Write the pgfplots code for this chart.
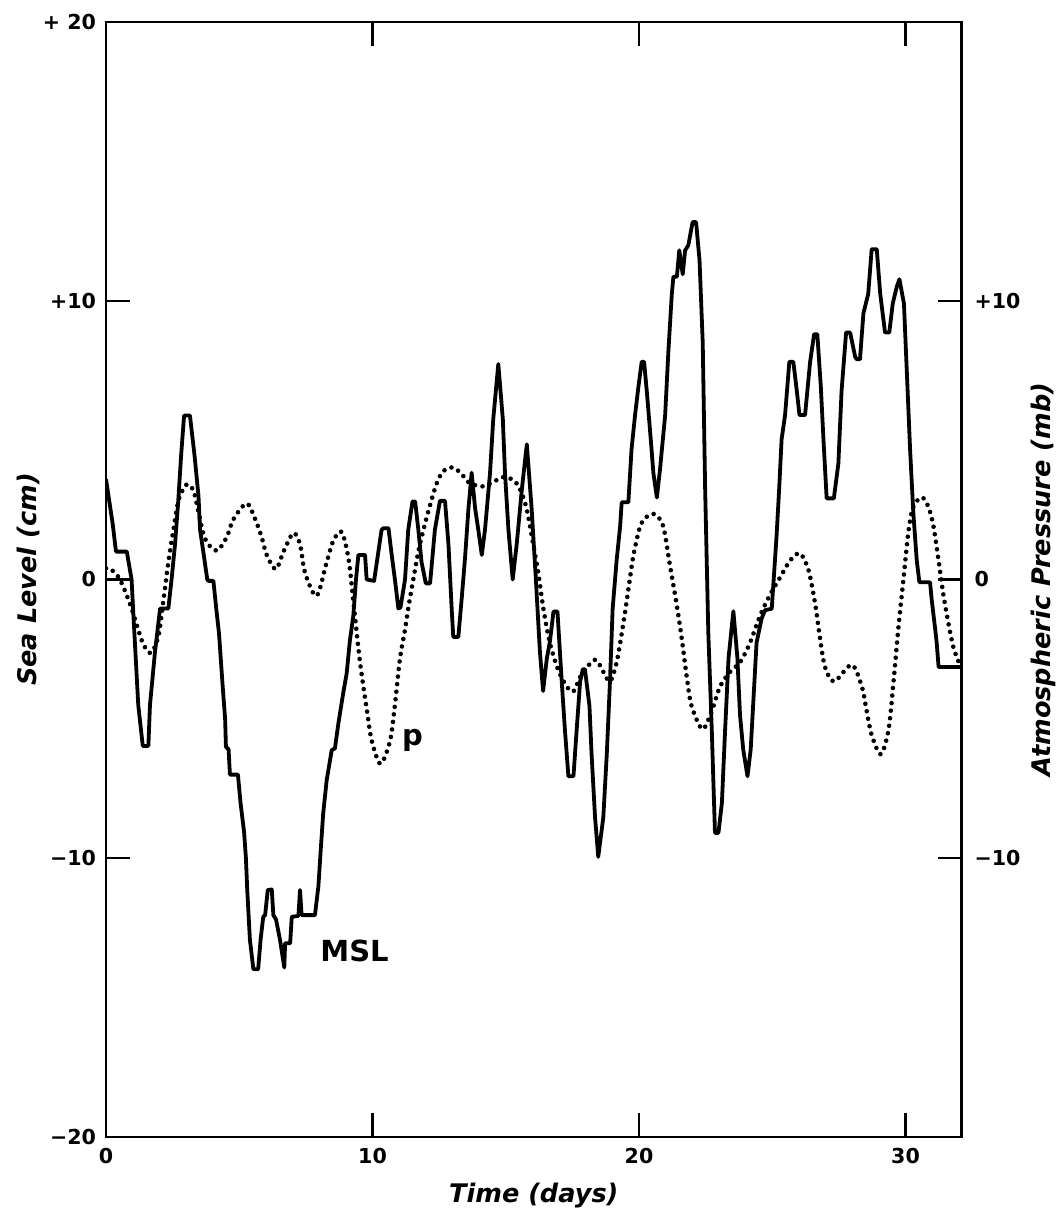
\documentclass[border=0pt]{standalone}
\usepackage{fontspec}
\setmainfont{DejaVu Sans}
\usepackage{pgfplots}
\pgfplotsset{compat=1.18}
\begin{document}
\begin{tikzpicture}
\begin{axis}[
  scale only axis, width=427.75pt, height=557.5pt,
  xmin=0, xmax=32.1, ymin=-20, ymax=20,
  axis line style={line width=1.2pt},
  every tick/.style={line width=1.1pt, black},
  major tick length=12pt,
  tick align=inside,
  xtick={0,10,20,30}, xticklabels={0,10,20,30},
  ytick={-20,-10,0,10,20}, yticklabels={−20,−10,0,+10,+ 20},
  ytick pos=left,
  xticklabel style={font=\fontsize{10.3}{12}\selectfont\bfseries, yshift=-2pt},
  yticklabel style={font=\fontsize{10.3}{12}\selectfont\bfseries, xshift=-1.5pt},
  xlabel={Time (days)}, ylabel={Sea Level (cm)},
  xlabel style={font=\fontsize{12.8}{15}\selectfont\bfseries\itshape, at={(axis description cs:0.5,-0.0529)}, anchor=center},
  ylabel style={font=\fontsize{12.8}{15}\selectfont\bfseries\itshape, at={(axis description cs:-0.0912,0.5)}, anchor=center},
  clip=true,
]
\addplot[black, line width=1.9pt, line join=round] coordinates {
(0,3.6) (0.25,2.0) (0.375,1.0) (0.78,1.0) (0.96,0.0) (1.03,-1.3) (1.21,-4.5) (1.38,-5.97) (1.59,-5.97)
(1.65,-4.5) (1.84,-2.58) (2.03,-1.04) (2.34,-1.04) (2.46,0) (2.59,1.26) (2.71,2.8) (2.82,4.47) (2.93,5.88)
(3.15,5.88) (3.32,4.47) (3.47,3.0) (3.53,1.78) (3.65,1.0) (3.8,0) (3.84,-0.05) (4.03,-0.05) (4.15,-1.16)
(4.24,-1.93) (4.38,-3.86) (4.47,-5.0) (4.5,-6.0) (4.6,-6.1) (4.65,-7.0) (4.95,-7.0) (5.05,-8.03) (5.18,-9.05)
(5.25,-10.0) (5.3,-11.14) (5.4,-12.93) (5.53,-13.98) (5.71,-13.98) (5.8,-12.93) (5.9,-12.1) (5.97,-12.04)
(6.07,-11.14) (6.22,-11.12) (6.28,-12.04) (6.38,-12.2) (6.53,-12.93) (6.69,-13.92) (6.72,-13.05) (6.91,-13.05)
(6.97,-12.1) (7.22,-12.07) (7.28,-11.14) (7.34,-12.04) (7.84,-12.04) (7.97,-11.0) (8.05,-9.8) (8.15,-8.39)
(8.28,-7.2) (8.47,-6.12) (8.59,-6.06) (8.72,-5.16) (8.9,-4.08) (9.03,-3.37) (9.15,-2.2) (9.28,-1.3) (9.38,0)
(9.47,0.88) (9.72,0.88) (9.78,0) (10.06,-0.05) (10.22,1.0) (10.34,1.78) (10.41,1.84) (10.6,1.84) (10.72,0.88)
(10.84,0) (10.97,-1.04) (11.05,-1.0) (11.22,0) (11.34,1.78) (11.5,2.8) (11.6,2.8) (11.72,1.78) (11.84,0.62)
(12.0,-0.14) (12.16,-0.14) (12.34,1.78) (12.53,2.82) (12.72,2.82) (12.85,1.26) (12.97,-1.04) (13.03,-2.06)
(13.22,-2.06) (13.35,-0.64) (13.47,0.75) (13.6,2.55) (13.72,3.83) (13.85,2.55) (13.97,1.78) (14.1,0.88)
(14.22,1.78) (14.41,3.83) (14.53,5.75) (14.72,7.73) (14.89,5.75) (14.97,3.83) (15.1,1.78) (15.26,0)
(15.41,1.26) (15.6,3.2) (15.79,4.85) (15.97,2.55) (16.13,0) (16.28,-2.58) (16.4,-4.0) (16.54,-2.84)
(16.66,-2.2) (16.79,-1.15) (16.94,-1.15) (17.1,-3.66) (17.22,-5.4) (17.35,-7.06) (17.54,-7.06) (17.66,-5.4)
(17.79,-3.66) (17.89,-3.22) (17.97,-3.22) (18.14,-4.53) (18.22,-6.27) (18.35,-8.53) (18.47,-9.95) (18.66,-8.53)
(18.79,-6.27) (18.91,-3.66) (19.01,-1.05) (19.16,0.69) (19.29,1.9) (19.35,2.77) (19.6,2.77) (19.72,4.68)
(19.85,5.89) (19.98,6.94) (20.1,7.81) (20.19,7.81) (20.29,6.77) (20.44,5.03) (20.54,3.81) (20.67,2.94)
(20.79,3.98) (20.98,5.89) (21.1,8.16) (21.23,10.24) (21.29,10.86) (21.42,10.86) (21.51,11.81) (21.64,10.95)
(21.73,11.81) (21.85,11.99) (22.01,12.82) (22.14,12.82) (22.27,11.46) (22.39,8.51) (22.48,3.29) (22.6,-1.92)
(22.73,-5.4) (22.85,-9.09) (22.98,-9.09) (23.11,-8.01) (23.23,-5.4) (23.36,-2.8) (23.54,-1.14) (23.69,-2.8)
(23.79,-4.88) (23.91,-6.1) (24.07,-7.06) (24.19,-6.1) (24.29,-4.36) (24.41,-2.27) (24.6,-1.4) (24.73,-1.1)
(24.98,-1.05) (25.04,-0.18) (25.16,1.55) (25.26,3.29) (25.35,5.03) (25.48,5.9) (25.64,7.81) (25.79,7.81)
(25.92,6.77) (26.02,5.9) (26.23,5.9) (26.42,7.81) (26.57,8.8) (26.69,8.8) (26.82,6.94) (26.92,5.03)
(27.04,2.91) (27.31,2.91) (27.48,4.16) (27.6,6.77) (27.77,8.86) (27.92,8.86) (28.11,7.99) (28.17,7.9)
(28.29,7.9) (28.42,9.55) (28.6,10.25) (28.73,11.85) (28.92,11.85) (29.05,10.25) (29.23,8.86) (29.39,8.86)
(29.52,9.9) (29.67,10.5) (29.77,10.77) (29.94,9.9) (30.04,7.64) (30.17,4.68) (30.29,2.42) (30.42,0.69)
(30.52,-0.1) (30.92,-0.1) (30.98,-0.71) (31.11,-1.76) (31.17,-2.28) (31.24,-3.14) (32.1,-3.14)
};
\addplot[black, line width=2.3pt, line cap=round, dash pattern=on 0pt off 3.8pt, smooth, tension=0.5] coordinates {
(0,0.4) (0.15,0.39) (0.46,0.1) (0.71,-0.4) (0.96,-1.04) (1.21,-1.8) (1.4,-2.32) (1.68,-2.64) (1.96,-2.06)
(2.15,-0.78) (2.34,0.62) (2.53,1.78) (2.71,2.8) (2.9,3.25) (3.05,3.42) (3.28,3.19) (3.47,2.42) (3.65,1.65)
(3.84,1.26) (4.18,1.04) (4.53,1.52) (4.78,2.16) (5.28,2.73) (5.6,2.16) (5.84,1.52) (6.03,0.88) (6.37,0.37)
(6.66,1.0) (7.03,1.67) (7.28,1.26) (7.47,0.24) (7.9,-0.59) (8.28,0.62) (8.53,1.39) (8.84,1.71) (9.1,0.75)
(9.28,-0.78) (9.41,-1.94) (9.53,-2.96) (9.66,-3.86) (9.78,-4.63) (9.97,-5.78) (10.3,-6.61) (10.66,-5.78)
(10.84,-4.5) (11.03,-2.84) (11.22,-1.8) (11.34,-1.04) (11.53,0) (11.72,1.0) (11.91,1.78) (12.16,2.67)
(12.41,3.45) (12.66,3.89) (13.03,4.02) (13.35,3.77) (13.66,3.45) (14.15,3.34) (14.53,3.5) (14.9,3.67)
(15.28,3.57) (15.53,3.25) (15.78,2.55) (16.03,1.26) (16.22,0.24) (16.41,-1.04) (16.66,-2.3) (16.97,-3.25)
(17.29,-3.84) (17.54,-4.01) (17.85,-3.4) (18.35,-2.88) (18.66,-3.31) (18.91,-3.66) (19.16,-2.97) (19.41,-1.58)
(19.6,-0.36) (19.79,0.86) (20.04,1.9) (20.29,2.25) (20.6,2.34) (20.91,1.9) (21.16,0.51) (21.41,-0.88)
(21.6,-2.1) (21.79,-3.49) (21.97,-4.53) (22.38,-5.37) (22.73,-4.71) (23.04,-3.84) (23.42,-3.31) (23.79,-2.97)
(24.16,-2.28) (24.54,-1.3) (24.92,-0.54) (25.29,0.07) (25.67,0.68) (26.04,0.94) (26.36,0.33) (26.61,-0.88)
(26.79,-2.1) (26.98,-3.14) (27.32,-3.66) (27.98,-3.06) (28.36,-3.84) (28.54,-4.71) (28.73,-5.58) (29.07,-6.27)
(29.36,-5.4) (29.55,-3.66) (29.73,-1.75) (29.92,-0.01) (30.11,1.73) (30.29,2.6) (30.61,2.95) (30.86,2.6)
(31.05,1.9) (31.24,0.68) (31.42,-0.54) (31.61,-1.58) (31.8,-2.45) (32.0,-2.97)
};
\node[font=\fontsize{14.5}{17}\selectfont\bfseries, anchor=base west, inner sep=0pt] at (axis cs:8.03,-13.72) {MSL};
\node[font=\fontsize{14.5}{17}\selectfont\bfseries, anchor=base west, inner sep=0pt] at (axis cs:11.1,-5.97) {p};
\end{axis}
\begin{axis}[
  scale only axis, width=427.75pt, height=557.5pt,
  xmin=0, xmax=32.1, ymin=-20, ymax=20,
  hide x axis,
  axis y line*=right,
  axis line style={line width=1.2pt},
  every tick/.style={line width=1.1pt, black},
  major tick length=12pt,
  tick align=inside,
  ytick={-10,0,10}, yticklabels={−10,0,+10},
  yticklabel style={font=\fontsize{10.3}{12}\selectfont\bfseries, xshift=3pt},
  ylabel={Atmospheric Pressure (mb)},
  ylabel style={font=\fontsize{12.8}{15}\selectfont\bfseries\itshape, at={(axis description cs:1.0953,0.5)}, anchor=center, rotate=0},
]
\end{axis}
\pgfresetboundingbox
\path ([shift={(-53pt,-41pt)}]current axis.south west) rectangle ([shift={(50.25pt,11pt)}]current axis.north east);
\end{tikzpicture}
\end{document}
